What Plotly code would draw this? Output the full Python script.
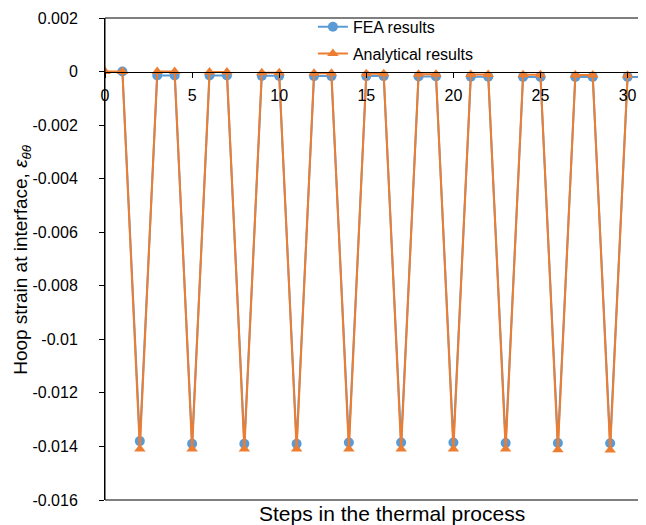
import plotly.graph_objects as go

fea_x = list(range(1, 32))
fea_y = [0.0, -0.0138, -0.00015, -0.00015, -0.0139, -0.00015, -0.00015, -0.0139,
         -0.00016, -0.00016, -0.0139, -0.00017, -0.00017, -0.01385, -0.00017, -0.00017,
         -0.01385, -0.00018, -0.00018, -0.01385, -0.00019, -0.00019, -0.01387, -0.0002,
         -0.0002, -0.01387, -0.0002, -0.0002, -0.01388, -0.0002, -0.0002]

ana_x = list(range(0, 31))
ana_y = [0.0, 0.0, -0.0141, 0.0, 0.0, -0.0141, -0.00002, -0.00002, -0.0141, -0.00004,
         -0.00004, -0.0141, -0.00006, -0.00006, -0.0141, -0.00008, -0.00008, -0.0141,
         -0.0001, -0.0001, -0.0141, -0.00011, -0.00011, -0.0141, -0.00012, -0.00012,
         -0.01412, -0.00013, -0.00013, -0.01413, -0.00014]

y_ticks = [0.002, 0, -0.002, -0.004, -0.006, -0.008, -0.01, -0.012, -0.014, -0.016]
y_tick_labels = ["0.002", "0", "-0.002", "-0.004", "-0.006", "-0.008", "-0.01",
                 "-0.012", "-0.014", "-0.016"]
x_ticks = [0, 5, 10, 15, 20, 25, 30]

blue = "#5B9BD5"
orange = "#ED7D31"
font = "Liberation Sans, Arial, sans-serif"

fig = go.Figure()
fig.add_trace(go.Scatter(x=fea_x, y=fea_y, name="FEA results", mode="lines+markers",
                         legendgroup="a",
                         line=dict(color=blue, width=2),
                         marker=dict(symbol="circle", size=10, color=blue)))
fig.add_trace(go.Scatter(x=ana_x, y=ana_y, name="Analytical results", mode="lines+markers",
                         legendgroup="b",
                         line=dict(color=orange, width=2),
                         marker=dict(symbol="triangle-up", size=10, color=orange)))

ymin, ymax = -0.016, 0.002
fig.update_layout(
    width=638, height=517,
    margin=dict(l=97, r=1, t=10, b=25),
    paper_bgcolor="white", plot_bgcolor="white",
    font=dict(family=font, size=16, color="#000000"),
    showlegend=True,
    legend=dict(x=0.385, y=1.017, xanchor="left", yanchor="top",
                traceorder="grouped", tracegroupgap=3,
                bgcolor="rgba(0,0,0,0)", font=dict(size=16, color="#000000")),
    xaxis=dict(range=[0, 31], tickvals=x_ticks, ticks="outside", ticklen=5,
               tickcolor="black", showline=True, linecolor="black", linewidth=1,
               showgrid=False, zeroline=False, anchor="free",
               position=(0 - ymin) / (ymax - ymin), ticklabelstandoff=4,
               tickfont=dict(size=16, color="#000000")),
    yaxis=dict(range=[ymin, ymax], tickvals=y_ticks, ticktext=y_tick_labels,
               ticks="outside", ticklen=5, tickcolor="black", showline=True,
               linecolor="black", linewidth=1, showgrid=False, zeroline=False,
               ticklabelstandoff=18,
               tickfont=dict(size=16, color="#000000")),
    shapes=[dict(type="rect", xref="paper", yref="paper", x0=0, y0=0, x1=1, y1=1,
                 line=dict(color="black", width=1), layer="above")],
    annotations=[
        dict(text="Steps in the thermal process", xref="paper", yref="paper",
             x=0.531, y=0, yanchor="middle", yshift=-13, showarrow=False,
             font=dict(size=21, color="#000000")),
        dict(text="Hoop strain at interface, <i>ε<sub>θθ</sub></i>", xref="paper",
             yref="paper", x=-0.154, y=0.5, textangle=-90, showarrow=False,
             xanchor="center", yanchor="middle", font=dict(size=19, color="#000000")),
    ],
)

fig.write_html("out.html")
